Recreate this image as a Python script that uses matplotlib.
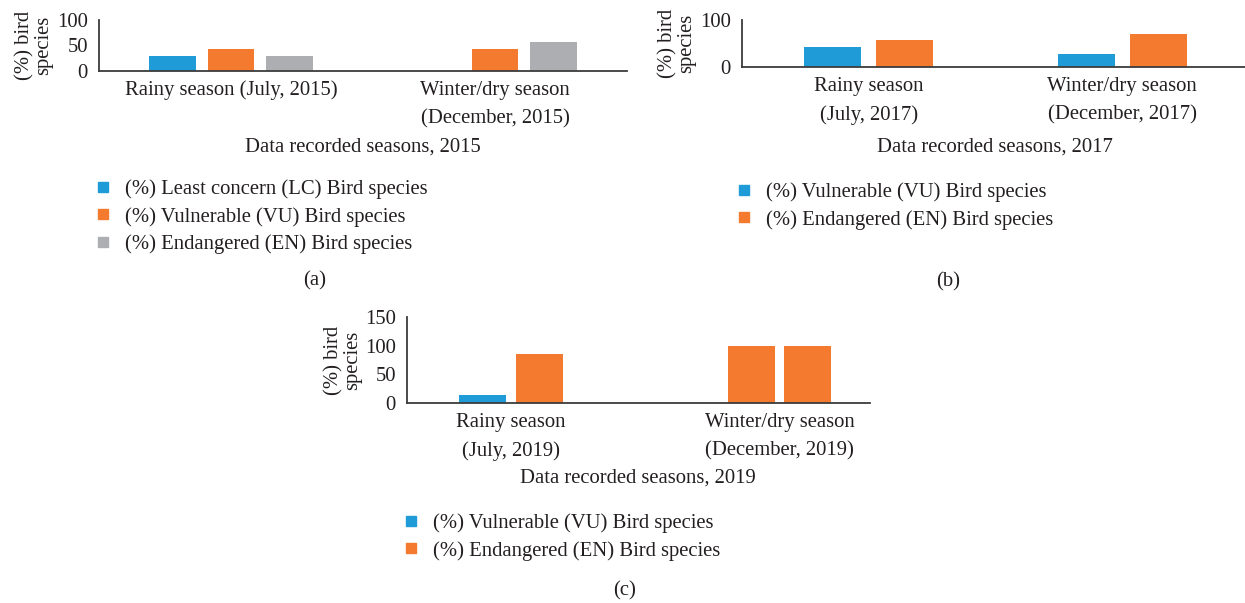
import matplotlib
matplotlib.use("Agg")
import matplotlib.pyplot as plt
from matplotlib.lines import Line2D
import numpy as np

# data (percent of bird species)
seasons_2015 = ["Rainy season (July, 2015)", "Winter/dry season\n(December, 2015)"]
lc_2015 = [28.6, 0.0]
vu_2015 = [42.9, 42.9]
en_2015 = [28.6, 57.1]

seasons_2017 = ["Rainy season\n(July, 2017)", "Winter/dry season\n(December, 2017)"]
vu_2017 = [42.9, 28.6]
en_2017 = [57.1, 71.4]

seasons_2019 = ["Rainy season\n(July, 2019)", "Winter/dry season\n(December, 2019)"]
vu_2019 = [14.3, 100.0]
en_2019 = [85.7, 100.0]

BLUE = "#1F9BD7"
ORANGE = "#F37A2F"
GRAY = "#ADAEB1"
TEXT = "#231F20"
AXIS = "#3C3C3C"
FS = 14.9

W, H = 1245, 603
plt.rcParams["font.family"] = ["Liberation Serif", "DejaVu Serif"]
plt.rcParams["font.size"] = FS
plt.rcParams["text.color"] = TEXT

fig = plt.figure(figsize=(W / 100, H / 100), dpi=100)


def px(x, y):
    # figure pixels (top-left origin) -> figure fraction
    return x / W, 1 - y / H


def make_axes(left, top, right, bottom):
    return fig.add_axes([left / W, 1 - bottom / H, (right - left) / W, (bottom - top) / H])


def style(ax, ylim, yticks, cats, xlabel, xlabel_xy, ylabel_xy):
    ax.set_ylim(*ylim)
    ax.set_yticks(yticks)
    ax.set_xticks(np.arange(len(cats)))
    ax.set_xticklabels(cats, linespacing=1.65)
    for s in ["top", "right"]:
        ax.spines[s].set_visible(False)
    for s in ["left", "bottom"]:
        ax.spines[s].set_color(AXIS)
        ax.spines[s].set_linewidth(1.3)
    ax.tick_params(length=0, colors=TEXT, labelsize=FS)
    ax.tick_params(axis="x", pad=7)
    ax.tick_params(axis="y", pad=8)
    ax.set_xlabel(xlabel, color=TEXT)
    ax.xaxis.label.set_va("center")
    ax.xaxis.set_label_coords(*px(*xlabel_xy), transform=fig.transFigure)
    ax.set_ylabel("(%) bird\nspecies", color=TEXT, linespacing=0.95)
    ax.yaxis.label.set_va("center")
    ax.yaxis.set_label_coords(*px(*ylabel_xy), transform=fig.transFigure)


def square(color):
    return Line2D([], [], marker="s", linestyle="none", markersize=7.5,
                  markerfacecolor=color, markeredgecolor=color)


LEG = dict(loc="upper left", frameon=False, handlelength=0.6, handletextpad=0.75,
           labelspacing=0.38, fontsize=FS, borderaxespad=0)

# ---- (a) 2015 ----
ax_a = make_axes(99, 20, 627, 71)
x = np.arange(len(seasons_2015))
w, step = 0.177, 0.222
ax_a.bar(x - step, lc_2015, w, color=BLUE)
ax_a.bar(x, vu_2015, w, color=ORANGE)
ax_a.bar(x + step, en_2015, w, color=GRAY)
ax_a.set_xlim(-0.5, 1.5)
style(ax_a, (0, 100), [0, 50, 100], seasons_2015,
      "Data recorded seasons, 2015", (363, 147), (34, 45))
fig.legend([square(BLUE), square(ORANGE), square(GRAY)],
           ["(%) Least concern (LC) Bird species",
            "(%) Vulnerable (VU) Bird species",
            "(%) Endangered (EN) Bird species"],
           bbox_to_anchor=px(89, 171), **LEG)
fig.text(*px(315, 281), "(a)", ha="center", va="center")

# ---- (b) 2017 ----
ax_b = make_axes(742, 20, 1245, 67.3)
x = np.arange(len(seasons_2017))
w, off = 0.225, 0.142
ax_b.bar(x - off, vu_2017, w, color=BLUE)
ax_b.bar(x + off, en_2017, w, color=ORANGE)
ax_b.set_xlim(-0.5, 1.5 - 4 / 253.5)
style(ax_b, (0, 100), [0, 100], seasons_2017,
      "Data recorded seasons, 2017", (995, 147), (677, 43))
fig.legend([square(BLUE), square(ORANGE)],
           ["(%) Vulnerable (VU) Bird species",
            "(%) Endangered (EN) Bird species"],
           bbox_to_anchor=px(730, 174), **LEG)
fig.text(*px(948, 282), "(b)", ha="center", va="center")

# ---- (c) 2019 ----
ax_c = make_axes(407, 317, 870, 403)
x = np.arange(len(seasons_2019))
w, off = 0.175, 0.105
vu_colors_2019 = [BLUE, ORANGE]  # winter VU bar is orange in the source figure
ax_c.bar(x - off, vu_2019, w, color=vu_colors_2019)
ax_c.bar(x + off, en_2019, w, color=ORANGE)
ax_c.set_xlim(-0.387, 1.337)
style(ax_c, (0, 150), [0, 50, 100, 150], seasons_2019,
      "Data recorded seasons, 2019", (638, 478), (343, 360))
fig.legend([square(BLUE), square(ORANGE)],
           ["(%) Vulnerable (VU) Bird species",
            "(%) Endangered (EN) Bird species"],
           bbox_to_anchor=px(397, 505), **LEG)
fig.text(*px(625, 591), "(c)", ha="center", va="center")

fig.savefig("out.png", dpi=100)
